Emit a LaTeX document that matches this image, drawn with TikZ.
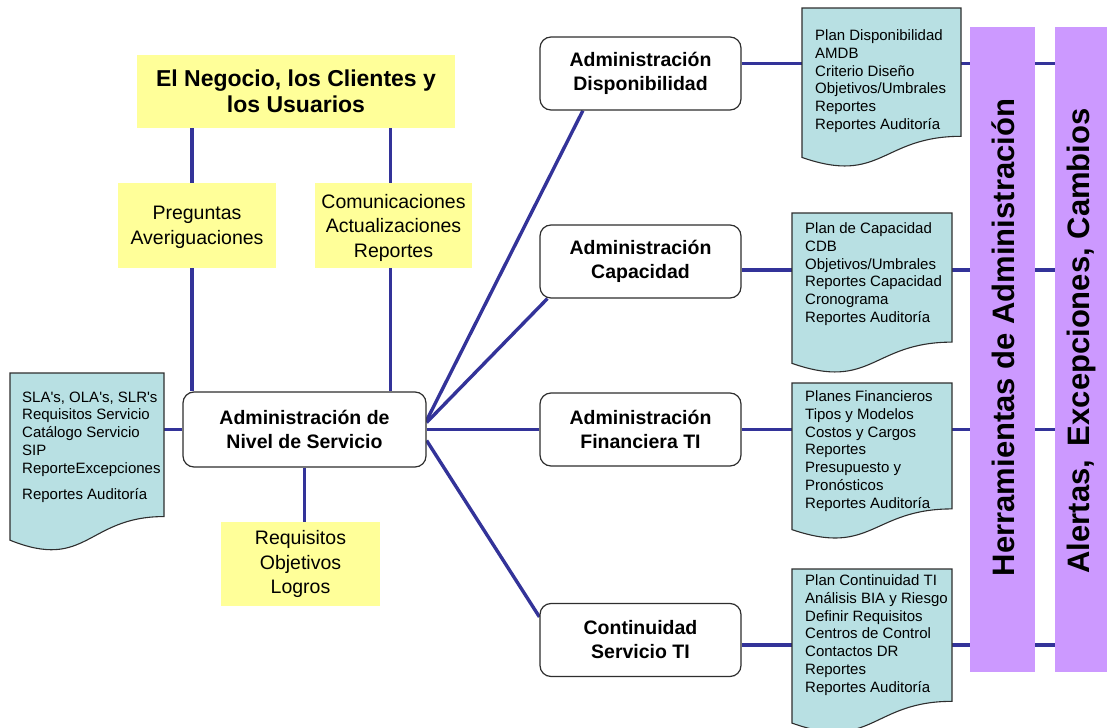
\documentclass[tikz,border=0pt]{standalone}
\usepackage{fontspec}
\setmainfont{Liberation Sans}
\usetikzlibrary{backgrounds,calc}

\definecolor{noteyellow}{HTML}{FFFF99}
\definecolor{docteal}{HTML}{B8E0E3}
\definecolor{barviolet}{HTML}{CC99FF}
\definecolor{linkblue}{HTML}{333399}
\definecolor{edgegray}{HTML}{2E2E2E}

\tikzset{
  link/.style={draw=linkblue, line width=3.4pt},
  procbox/.style={draw=edgegray, line width=1.2pt, rounded corners=11pt, fill=white,
    minimum width=201pt, minimum height=73pt, align=center, inner sep=0pt,
    font=\fontsize{19.5}{24}\selectfont\bfseries},
  notebox/.style={fill=noteyellow, align=center, inner sep=0pt,
    font=\fontsize{19.5}{24.5}\selectfont},
  docframe/.style={anchor=north west, inner sep=0pt, outer sep=0pt},
  docline/.style={draw=edgegray, line width=1.1pt, fill=docteal},
  doctext/.style={anchor=north west, inner sep=0pt, align=left,
    font=\fontsize{15}{17.8}\selectfont},
  bartext/.style={rotate=90, inner sep=0pt, font=\fontsize{31}{32}\selectfont\bfseries},
}

% outline of a document sheet with a wavy lower edge, fitted to a frame node
\newcommand\docoutline[1]{%
  \filldraw[docline] let \p1=(#1.north west), \p2=(#1.south east), \n1={\y1-\y2} in
    (\p1) -- (\x2,\y1) -- (\x2,{\y1-0.802*\n1})
    .. controls ({(\x1+\x2)/2},{\y1-0.802*\n1}) and ({(\x1+\x2)/2},{\y1-1.1075*\n1})
    .. (\x1,{\y1-0.934*\n1}) -- cycle;}

\begin{document}
\begin{tikzpicture}[x=1pt,y=-1pt]
\useasboundingbox (0,0) rectangle (1112,728);

% document sheets
\node[docframe, minimum width=154pt, minimum height=179pt] (d0) at (10,373) {};
\node[docframe, minimum width=159pt, minimum height=160pt] (d1) at (802,8) {};
\node[docframe, minimum width=160pt, minimum height=161pt] (d2) at (792,213) {};
\node[docframe, minimum width=160pt, minimum height=157pt] (d3) at (792,383) {};
\node[docframe, minimum width=160pt, minimum height=165pt] (d4) at (792,569) {};
\docoutline{d0}
\docoutline{d1}
\docoutline{d2}
\docoutline{d3}
\docoutline{d4}

\node[doctext] (t0) at (22,391.5) {SLA\textquotesingle s, OLA\textquotesingle s, SLR\textquotesingle s\\
  Requisitos Servicio\\Catálogo Servicio\\SIP\\ReporteExcepciones\\[8pt]Reportes Auditoría};
\node[doctext] (t1) at (815,29.5) {Plan Disponibilidad\\AMDB\\Criterio Diseño\\
  Objetivos/Umbrales\\Reportes\\Reportes Auditoría};
\node[doctext] (t2) at (805,222.5) {Plan de Capacidad\\CDB\\Objetivos/Umbrales\\
  Reportes Capacidad\\Cronograma\\Reportes Auditoría};
\node[doctext] (t3) at (805,390.5) {Planes Financieros\\Tipos y Modelos\\Costos y Cargos\\
  Reportes\\Presupuesto y\\Pronósticos\\Reportes Auditoría};
\node[doctext] (t4) at (805,574.5) {Plan Continuidad TI\\Análisis BIA y Riesgo\\
  Definir Requisitos\\Centros de Control\\Contactos DR\\Reportes\\Reportes Auditoría};

% yellow notes
\node[notebox, minimum width=318pt, minimum height=73pt,
  font=\fontsize{23}{26.5}\selectfont\bfseries] (biz) at (296,91.5)
  {El Negocio, los Clientes y\\los Usuarios};
\node[notebox, minimum width=158pt, minimum height=85pt, text depth=0pt] (ask) at (197,225.5)
  {Preguntas\\Averiguaciones};
\node[notebox, minimum width=157pt, minimum height=85pt, text depth=0pt] (com) at (393.5,225.5)
  {Comunicaciones\\Actualizaciones\\Reportes};
\node[notebox, minimum width=159pt, minimum height=84pt] (req) at (300.5,564)
  {Requisitos\\Objetivos\\Logros};

% process boxes
\node[procbox, minimum width=243pt, minimum height=75pt] (main) at (304.5,429.5)
  {Administración de\\Nivel de Servicio};
\node[procbox] (disp) at (640.5,73.5) {Administración\\Disponibilidad};
\node[procbox] (cap) at (640.5,261.5) {Administración\\Capacidad};
\node[procbox] (fin) at (640.5,429.5) {Administración\\Financiera TI};
\node[procbox] (cont) at (640.5,640) {Continuidad\\Servicio TI};

% tool bars
\node[fill=barviolet, anchor=north west, inner sep=0pt, minimum width=65pt,
  minimum height=645pt] (bar1) at (970,27) {};
\node[fill=barviolet, anchor=north west, inner sep=0pt, minimum width=52pt,
  minimum height=645pt] (bar2) at (1055,27) {};
\node[bartext] (bl1) at (1003,337.5) {Herramientas de Administración};
\node[bartext] (bl2) at (1081,341) {Alertas,\, Excepciones, Cambios};

% connectors
\coordinate (r1) at ([yshift=10pt]disp.east);
\coordinate (r2) at ([yshift=-8.5pt]cap.east);
\coordinate (r3) at (fin.east);
\coordinate (r4) at ([yshift=-5pt]cont.east);
\begin{scope}[on background layer]
  \draw[link] ([xshift=-5pt]ask.center |- biz.south) -- ([xshift=-5pt]ask.center |- main.north);
  \draw[link] ([xshift=-3pt]com.center |- biz.south) -- ([xshift=-3pt]com.center |- main.north);
  \draw[link] (main.south) -- (main.south |- req.north);
  \draw[link] (d0.east |- main.west) -- (main.west);
  \draw[link] ([yshift=9pt]main.east) -- ($(disp.south west)!0.215!(disp.south east)$);
  \draw[link] ([yshift=7pt]main.east) -- ([xshift=8pt]cap.south west);
  \draw[link] (main.east) -- (fin.west);
  \draw[link] ([yshift=-11pt]main.east) -- ([yshift=-14pt]cont.north west);
  \draw[link] (r1) -- (r1 -| bar2.west);
  \draw[link] (r2) -- (r2 -| bar2.west);
  \draw[link] (r3) -- (r3 -| bar2.west);
  \draw[link] (r4) -- (r4 -| bar2.west);
\end{scope}
\end{tikzpicture}
\end{document}
